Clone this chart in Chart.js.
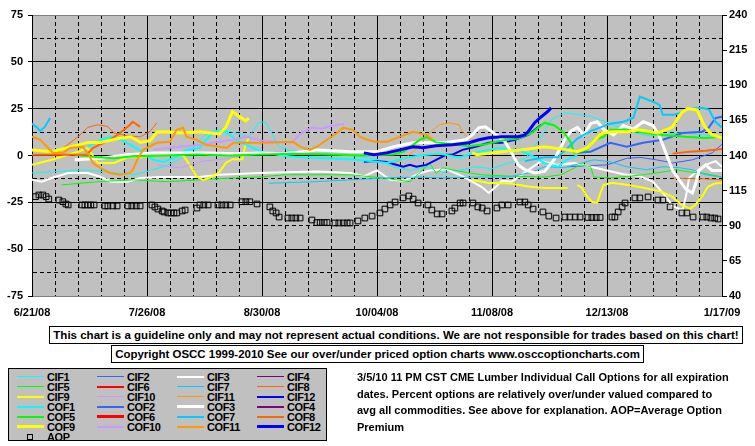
<!DOCTYPE html>
<html>
<head>
<meta charset="utf-8">
<script src="https://cdn.jsdelivr.net/npm/chart.js@4.4.1/dist/chart.umd.min.js"></script>
<style>
body { margin: 0; background: #fff; }
#wrap { position: relative; width: 755px; height: 446px; overflow: hidden; font-family: 'Liberation Sans', Arial, sans-serif; font-weight: bold; color: #000; }
#chart { position: absolute; left: 0; top: 0; }
.box { position: absolute; border: 1px solid #000; background: #fff; box-sizing: border-box; display: flex; align-items: center; justify-content: center; white-space: nowrap; font-size: 12px; }
#legend { position: absolute; left: 8px; top: 368px; width: 319px; height: 73px; background: #c0c0c0; border: 1px solid #000; box-sizing: border-box; }
.item { position: absolute; height: 10px; width: 78px; font-size: 11px; line-height: 10px; letter-spacing: -0.4px; white-space: nowrap; }
.swatch { position: absolute; left: 0; width: 27px; }
.lbl { position: absolute; left: 30px; top: 0; }
#info { position: absolute; left: 357px; top: 369px; font-size: 11px; line-height: 16.5px; white-space: nowrap; }
</style>
</head>
<body>
<div id="wrap">
  <canvas id="chart" width="755" height="446"></canvas>
  <div class="box" id="disc" style="left:49px;top:326px;width:694px;height:18px"><span>This chart is a guideline only and may not represent actual conditions. We are not responsible for trades based on this chart!</span></div>
  <div class="box" id="copy" style="left:111px;top:345px;width:533px;height:18px"><span>Copyright OSCC 1999-2010 See our over/under priced option charts www.osccoptioncharts.com</span></div>
  <div id="legend"></div>
  <div id="info">3/5/10 11 PM CST CME Lumber Individual Call Options for all expiration<br>dates. Percent options are relatively over/under valued compared to<br>avg all commodities. See above for explanation. AOP=Average Option<br>Premium</div>
</div>
<script>
// x axis is in days from 6/21/08, one label every 5 weeks
const xLabels = ['6/21/08', '7/26/08', '8/30/08', '10/04/08', '11/08/08', '12/13/08', '1/17/09'];

// [day, percent] pairs, null breaks the line
const CIF1 = [[0,-9.3],[8,-8.5],[16,-7.6],[24,-9],[31,-10.3],[36,-8],[40,-6],[44,-3],[48,2],[52,10],[55,13],[58,14],[62,12],[66,10],[69,17.5],[71,18],[73,12],[75,5],[78,3],[85,1],[95,0.5],[105,-2],[110,-6],[115,-8],[120,-6],[125,-9],[130,-8],[135,-6],[140,-7],[145,-4],[150,-2],[155,10],[158,19],[162,22.8],[166,22],[170,21],[173,19],[176,17],[180,14],[184,12],[188,10.5],[192,11],[196,12],[200,12],[205,11],[210,10]];
const CIF2 = [[163,-6],[169,-5.5],[175,-5],[181,-1.5],[185,-1],[190,-2.3],[195,-4],[201,-2.3],[207,1.4],[210,6]];
const CIF3 = [[0,-13],[3,-14],[6,-12],[11,-9.3],[17,-9.3],[21,-11.5],[24,-14],[29,-14],[33,-12],[39,-11.5],[51,-11.5],[57,-10.3],[69,-9.3],[77,-9],[87,-8.5],[97,-9.3],[101,-11],[105,-8],[109,-13],[113,-13.5],[118,-9.5],[121,-8],[126,-7.3],[129,-9.5],[131,-11],[134,-14],[137,-17],[139,-20],[141,-17],[143,-13.5],[146,-14],[150,-9],[155,-3],[160,-5],[165,-4],[170,-6],[175,-8],[180,-10],[185,-11],[189,-14],[192,-20],[195,-27],[198,-29],[199,-22],[200,-12],[202,-9],[205,-5],[208,-3],[210,-6]];
const CIF4 = [];
const CIF5 = [[9,-15.7],[20,-14],[31,-13],[41,-14],[51,-13],[61,-12],[69,-11.5],[77,-10.3],[97,-10.3],[107,-12],[115,-14],[119,-7.6],[121,-4],[123,-9.5],[125,-6.6],[129,-8],[133,-9.3],[137,-10.3],[145,-11],[156,-11.5],[161,-10.3],[164,-7.6],[167,-5],[170,-6],[171,-11.5],[176,-12],[186,-10.3],[192,-8.8],[196,-7.6],[200,-8.8],[204,-9.3],[210,-11.5]];
const CIF6 = [];
const CIF7 = [[72,-14.8],[86,-14],[97,-13],[107,-12],[117,-11.5],[125,-12],[137,-11.5],[145,-11.5],[152,-9],[156,-6],[162,-6.5],[171,-2.3],[176,-3.4],[181,-6],[187,-7.6],[192,-6],[197,-6.5],[201,-7.6],[205,-10.3],[210,-11.5]];
const CIF8 = [[8,2],[11,6],[14,10],[17,15],[20,16.4],[23,15.5],[25,12],[29,10.5],[33,10],[36,13],[38,17.5],[39,null],[195,-12],[200,-12.3],[205,-12.5],[210,-13]];
const CIF9 = [[0,-5],[6,-2.3],[14,2],[17,4],[20,-4],[25,-4],[29,-1],[33,-1],[38,0],[43,1],[46,0],[48,-5],[50,-11],[52,-13],[54,-12],[57,-9],[59,-4],[61,-2],[64,-2],[65,6],[66,9.4],[67,null],[134,-13],[138.5,-14.6],[145.5,-15],[151.6,-16.7],[156,-17.3],[163,-17.3],[164,null],[166,-15.7],[167.4,-17.3],[169,-22],[170.4,-24.7],[172,-25.3],[173,-20],[174,-15.7],[176.5,-14.6],[181.4,-15.7],[186.6,-17.3],[191.7,-19.4],[194.8,-22],[197.8,-26.4],[200.3,-28.5],[201.8,-26.4],[203.9,-22],[205.7,-16.7],[207.9,-15],[210,-14.6]];
const CIF10 = [[38,-5],[42,-6],[45,-6.6],[48,-5],[52,-3],[58,-2],[64,0],[70,1],[76,2]];
const CIF11 = [[110,-4],[113,-2],[116,2],[119,8],[122,13.7],[124,16.4],[127,17.5],[130,16.4],[131,12.7],[133,9],[135,8]];
const CIF12 = [[101,-3.4],[104,-3],[108,-3.4],[110,-4.5],[113,-6],[115,-5],[117,-6],[120,-5],[123,-2.3],[126,0.4],[128,0.4],[131,3],[135,4.7],[139,6.8],[143,6.8],[147,8.4],[151,11],[153,13.7],[155,16.4]];
const COF1 = [[17,4.7],[21,8.4],[24,10],[27,8.4],[31,4.7],[34,1.4],[37,-2.3],[40,-3.4],[44,-0.7],[47,3],[51,4],[53,8.4],[55,12],[59,12.5],[62,8.4],[66,5],[70,2],[76,0],[82,-1],[90,-1.5],[97,-2],[103,-3],[108,-4],[112,-2],[118,0],[124,1],[130,-1],[136,2],[142,4],[148,3],[152,0],[156,-4],[160,-6],[163,-2],[166,0]];
const COF2 = [[166,1.4],[170,2],[176,6.8],[181,4.7],[186,6.8],[192,8.4],[198,12],[204,12.7],[206,15],[208,20],[210,20.7]];
const COF3 = [[13,-2.3],[21,-1.5],[29,0.4],[37,1.4],[45,1.4],[54,1.4],[62,1],[70,1.4],[77,1],[87,3],[97,2],[105,2],[110,4.7],[116,6.8],[126,7],[132,8.4],[134,11],[136,14.8],[138,15.3],[140,12.7],[142,10],[144,7.3],[146,1.4],[148,-5],[150,-7.6],[153,-9.3],[156,-8.5],[159,-2],[162,8],[164,13],[166,15],[168,11],[170,17],[172,18],[174,14],[177,11],[180,16],[183,14],[186,18],[189,16],[191,10],[193,1],[195,-8],[197,-13],[199,-18],[201,-20],[202,-15],[203,-8],[205,-5],[207,-8],[210,-8]];
const COF4 = [];
const COF5 = [[13,0.4],[20,-1],[25,-1.5],[30,-0.5],[40,0],[50,0.5],[60,0],[70,0.5],[80,1],[90,0.5],[100,0],[110,0.5],[113,2],[116,5.7],[118,8.4],[120,10],[123,7],[128,6],[133,5],[138,6],[143,8],[148,9],[152,12],[156,17.5],[159,16],[162,12],[164,6.8],[165,1.4],[169,3],[171,8.4],[174,10],[176,13.7],[181,13.7],[187,12],[192,11],[199,10],[205,9.4],[210,10]];
const COF6 = [];
const COF7 = [[0,17],[1.5,15],[2.5,13],[4,15.5],[5.5,20],[6,null],[150,-3],[156,-1],[160,-1],[163,4],[166,9],[170,13],[176,17],[180,18],[183,20],[185,31.4],[187,30],[190,28],[191,27],[192,21.7],[195,21.7],[198,23],[200,25],[204,25.5],[206,24.5],[208,18],[210,15]];
const COF8 = [[0,0.4],[10,0.4],[16.7,0.4],[18.5,4],[23.7,8.4],[26.8,12],[29.8,16.4],[30.7,18],[32.9,15.3],[33,null],[195,1],[200,2],[205,2.5],[210,3.5]];
const COF9 = [[0,3],[6,2],[17,7],[21,7],[26,9],[30,10],[33,7],[36,8],[38,12.5],[41,12.7],[45,12],[51,12.7],[57,11.5],[59,15],[61,23.5],[63,21],[65,18.5],[66,20],[67,null],[134,1.4],[135.4,0.4],[143,2],[149,3],[156,4.7],[163,3],[166,2],[169,4],[171.4,8.4],[173.5,12],[176.5,12.7],[181.4,12.7],[184.4,13.7],[190.5,12],[194.8,15],[197.8,23],[199.7,25],[202.4,24.4],[204.8,15.3],[207,11],[210,9.5]];
const COF10 = [[37,3],[41,4],[45,4.7],[51,5.7],[55,6.8],[61,8.4],[65,10],[70,8],[75,7.3],[79,6.8],[82,12],[85,14.8],[88,14.3],[90,15.3],[93,16.4],[95,17]];
const COF11 = [[0,10],[2.5,8.4],[4.6,4.7],[6.4,1.4],[9.4,1.4],[11.6,4],[15.5,4.7],[17.6,-0.7],[18.5,-4],[20.7,-6.6],[23.7,-9.3],[26.8,-10.3],[29.8,-9.3],[30.7,-7.6],[32,-2.3],[33.8,3],[38,6.8],[42,7.3],[44,13.7],[46,14.8],[47,10],[50,8.4],[53,5.7],[59.3,4],[61.2,6.8],[66.3,6.8],[71.5,6.8],[79.4,7.3],[81.6,4.7],[84.6,3],[86.7,4.7],[89.8,8.4],[92.8,12],[94.7,14.8],[97.7,13.7],[99.8,10],[102,8.4],[104.4,7.3],[108,7.3],[111,9.4],[116,12.7],[120,11],[122,8.4]];
const COF12 = [[101,1.4],[104,0.4],[108,1.4],[112,3],[116,4.7],[119,4.2],[123,5.2],[128,5.7],[133,6.8],[136,8.4],[139,9.5],[143,10],[148,10],[150,11],[151,12.7],[153,17.5],[155,20.7],[157,23.5],[158,25.5]];

// average option premium, right axis
const AOP = [[1.1,110.7],[2.1,111.9],[3.3,111.9],[4.3,110.7],[5.1,109],[8.2,108.3],[9.4,107.1],[10.3,105.5],[11,104.8],[15.2,104.8],[16.1,104.8],[17,104.8],[17.9,104.8],[18.9,104.8],[22.2,104.1],[23.1,104.1],[24.6,104.1],[25.9,104.1],[29.2,104.1],[30.4,104.1],[31.7,104.1],[32.9,104.1],[36.5,104.8],[37.4,103.4],[38.3,101.9],[39.6,100.5],[40.2,99.8],[41.4,99.1],[42.3,99.1],[43.2,99.1],[44.1,99.1],[45.7,100.5],[46.6,101.2],[50.2,102.6],[51.1,104.8],[52.3,104.8],[53.6,104.8],[56.6,104.8],[57.8,104.8],[59,104.8],[60.3,104.8],[63.9,107.1],[65.1,107.1],[66.3,107.1],[68.5,105.5],[72.4,103.4],[73.3,100.5],[74.3,99.1],[75.2,96.2],[77.9,95.5],[79.1,95.5],[80.3,95.5],[81.6,95.5],[85.2,94.1],[86.7,92.3],[87.7,92.3],[88.9,92.3],[89.8,92.3],[92.2,92],[93.4,92],[94.7,92],[95.9,92],[96.8,92],[99.2,93.4],[101.3,95.5],[103.5,96.9],[105.9,99.1],[107.4,101.9],[109,104.8],[110.5,106.9],[112.9,109.8],[114.7,111.2],[116,109],[117.5,106.2],[120.5,104.8],[121.7,101.2],[123.3,98.4],[124.8,98.4],[127.8,100.5],[128.7,102.6],[130.3,106.2],[131.2,106.2],[134.2,106.2],[135.7,103.4],[137,102.6],[138.5,100.5],[141.5,102.6],[143,104.8],[144.9,104.8],[148.5,106.9],[150,106.9],[151,104.8],[152.5,101.9],[155.5,99.8],[157.3,96.9],[159.5,95.5],[162.2,96.2],[163.7,96.2],[165.3,96.2],[166.8,96.2],[169.2,95.9],[170.4,95.9],[171.7,95.9],[172.9,95.9],[176.5,96.2],[177.4,96.2],[178.4,99.8],[179.6,103.4],[180.5,106.2],[183.5,109.8],[185,109.8],[187.5,110.5],[190.5,108.3],[192,108.3],[194.2,103.4],[197.8,99.1],[199.3,99.1],[201.2,96.2],[204.2,96.2],[205.4,96.2],[206.6,95.5],[207.8,95.5],[208.8,94.8]];

const seriesNames = ['CIF1','CIF2','CIF3','CIF4','CIF5','CIF6','CIF7','CIF8','CIF9','CIF10','CIF11','CIF12',
  'COF1','COF2','COF3','COF4','COF5','COF6','COF7','COF8','COF9','COF10','COF11','COF12'];
const seriesData = [CIF1, CIF2, CIF3, CIF4, CIF5, CIF6, CIF7, CIF8, CIF9, CIF10, CIF11, CIF12,
  COF1, COF2, COF3, COF4, COF5, COF6, COF7, COF8, COF9, COF10, COF11, COF12];
const baseColors = ['#00ffff','#3366ff','#ffffff','#800080','#00ff00','#ff0000','#00ccff','#ff6600','#ffff00','#cc99ff','#ff9900','#0000ff'];
const seriesColors = baseColors.concat(baseColors);
const seriesWidths = [1,1,2,1,1,2,1,1,2,1,1,2, 2,2,3,2,2,3,2,2,3,2,2,3];

const tickFont = { family: "'Liberation Sans', Arial, sans-serif", size: 11, weight: 'bold' };

// grey plot area
const plotBg = {
  id: 'plotBg',
  beforeDraw(chart) {
    const { ctx, chartArea: a } = chart;
    ctx.save();
    ctx.fillStyle = '#c0c0c0';
    ctx.fillRect(a.left, a.top, a.right - a.left, a.bottom - a.top);
    ctx.restore();
  }
};

const datasets = seriesData.map((pts, i) => ({
  label: seriesNames[i],
  data: pts.map(p => ({ x: p[0], y: p[1] })),
  borderColor: seriesColors[i],
  borderWidth: seriesWidths[i],
  pointRadius: 0,
  tension: 0,
  fill: false,
  spanGaps: false,
  yAxisID: 'y',
  order: -i
}));
datasets.push({
  label: 'AOP',
  data: AOP.map(p => ({ x: p[0], y: p[1] })),
  showLine: false,
  pointStyle: 'rect',
  pointRadius: 4,
  borderColor: '#000',
  backgroundColor: 'rgba(0,0,0,0)',
  pointBorderWidth: 1,
  yAxisID: 'y2',
  order: -100
});

new Chart(document.getElementById('chart'), {
  type: 'line',
  data: { datasets: datasets },
  options: {
    responsive: false,
    animation: false,
    layout: { padding: { top: 15, left: 0, right: 0, bottom: 0 } },
    plugins: { legend: { display: false }, tooltip: { enabled: false } },
    scales: {
      x: {
        type: 'linear', min: 0, max: 210,
        afterFit: s => { s.height = 150; },
        ticks: {
          stepSize: 7, autoSkip: false, maxRotation: 0, padding: 10,
          color: '#000', font: tickFont,
          callback: v => (v % 35 === 0 ? xLabels[v / 35] : '')
        },
        grid: { color: '#000', lineWidth: 1, drawTicks: false },
        border: { color: '#808080', dash: ctx => (ctx.tick && ctx.tick.value % 35 !== 0 ? [4, 3] : []) }
      },
      y: {
        min: -75, max: 75,
        afterFit: s => { s.width = 32; },
        ticks: {
          stepSize: 12.5, autoSkip: false, padding: 5,
          color: '#000', font: tickFont,
          callback: v => (v % 25 === 0 ? v : '')
        },
        grid: {
          color: ctx => (ctx.tick && Math.abs(ctx.tick.value) === 75 ? '#808080' : '#000'),
          tickLength: 4,
          tickColor: ctx => (ctx.tick && ctx.tick.value % 25 === 0 ? '#000' : 'rgba(0,0,0,0)')
        },
        border: { color: '#000', dash: ctx => (ctx.tick && ctx.tick.value % 25 !== 0 ? [4, 3] : []) }
      },
      y2: {
        position: 'right', min: 40, max: 240,
        afterFit: s => { s.width = 33; },
        ticks: { stepSize: 25, padding: 2, color: '#000', font: tickFont },
        grid: { drawOnChartArea: false, tickLength: 5, tickColor: '#000' },
        border: { color: '#000' }
      }
    }
  },
  plugins: [plotBg]
});

// legend, 4 columns, built from the series lists
const legend = document.getElementById('legend');
const legendNames = seriesNames.concat(['AOP']);
legendNames.forEach((name, i) => {
  const col = i % 4, row = Math.floor(i / 4);
  const item = document.createElement('div');
  item.className = 'item';
  item.style.left = (8 + col * 80) + 'px';
  item.style.top = (2.7 + row * 10) + 'px';
  if (name === 'AOP') {
    const sq = document.createElement('div');
    sq.style.cssText = 'position:absolute;left:10px;top:2px;width:6px;height:6px;border:1px solid #000;box-sizing:border-box;';
    item.appendChild(sq);
  } else {
    const sw = document.createElement('div');
    sw.className = 'swatch';
    sw.style.height = seriesWidths[i] + 'px';
    sw.style.top = (5 - seriesWidths[i] / 2) + 'px';
    sw.style.background = seriesColors[i];
    item.appendChild(sw);
  }
  const lbl = document.createElement('div');
  lbl.className = 'lbl';
  lbl.textContent = name;
  item.appendChild(lbl);
  legend.appendChild(item);
});

// stretch the boxed notes to the widths they have in the picture
function fitWidth(id, target) {
  const span = document.querySelector('#' + id + ' span');
  const w = span.getBoundingClientRect().width;
  const size = parseFloat(getComputedStyle(span).fontSize);
  span.style.fontSize = (size * target / w) + 'px';
}
fitWidth('disc', 686);
fitWidth('copy', 525);
</script>
</body>
</html>
